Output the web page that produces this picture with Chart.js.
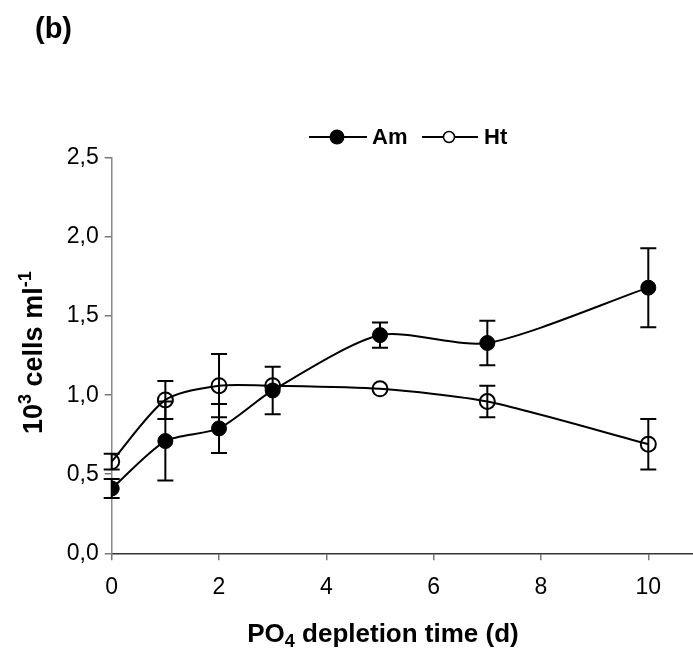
<!DOCTYPE html>
<html>
<head>
<meta charset="utf-8">
<script src="https://cdn.jsdelivr.net/npm/chart.js@4"></script>
<style>
  html, body { margin: 0; padding: 0; background: #fff; }
  #wrap { width: 693px; height: 658px; position: relative; }
</style>
</head>
<body>
<div id="wrap"><canvas id="cellChart" width="693" height="658"></canvas></div>
<script>
// ===== data =====
const days   = [0, 1, 2, 3, 5, 7, 10];
const amVals = [0.41, 0.71, 0.79, 1.03, 1.38, 1.33, 1.68];
const amErr  = [0.06, 0.25, 0.155, 0.15, 0.08, 0.14, 0.25];
const htVals = [0.58, 0.97, 1.06, 1.06, 1.04, 0.96, 0.69];
const htErr  = [0.05, 0.12, 0.2, 0, 0, 0.1, 0.16];
const xTicks = [0, 2, 4, 6, 8, 10];
const yTicks = [0, 0.5, 1.0, 1.5, 2.0, 2.5];

const FONT = "'Liberation Sans', Arial, sans-serif";

// error bars, drawn through the scales
const errorBars = {
  id: "errorBars",
  afterDatasetsDraw(chart) {
    const ctx = chart.ctx;
    const xs = chart.scales.x, ys = chart.scales.y;
    const sets = [[amVals, amErr], [htVals, htErr]];
    ctx.save();
    ctx.strokeStyle = "#000";
    ctx.lineWidth = 2;
    sets.forEach(([vals, errs]) => {
      vals.forEach((v, i) => {
        const e = errs[i];
        if (!e) return;
        const px = xs.getPixelForValue(days[i]);
        const top = ys.getPixelForValue(v + e);
        const bot = ys.getPixelForValue(v - e);
        ctx.beginPath();
        ctx.moveTo(px, top); ctx.lineTo(px, bot);
        ctx.moveTo(px - 8, top); ctx.lineTo(px + 8, top);
        ctx.moveTo(px - 8, bot); ctx.lineTo(px + 8, bot);
        ctx.stroke();
      });
    });
    ctx.restore();
  }
};

// titles, panel label and legend (with sub/superscripts)
function drawRuns(ctx, runs, x, y, align) {
  // runs: [text, size, dy]
  let w = 0;
  runs.forEach(r => { ctx.font = "bold " + r[1] + "px " + FONT; w += ctx.measureText(r[0]).width; });
  let cx = align === "center" ? x - w / 2 : x;
  runs.forEach(r => {
    ctx.font = "bold " + r[1] + "px " + FONT;
    ctx.fillText(r[0], cx, y + r[2]);
    cx += ctx.measureText(r[0]).width;
  });
}

const decorations = {
  id: "decorations",
  afterDraw(chart) {
    const ctx = chart.ctx;
    const area = chart.chartArea;
    ctx.save();
    ctx.fillStyle = "#000";
    ctx.textBaseline = "alphabetic";
    ctx.textAlign = "left";

    // panel label
    ctx.font = "bold 29px " + FONT;
    ctx.fillText("(b)", 35, 38);

    // x title
    const xs = chart.scales.x;
    const xMid = (xs.getPixelForValue(0) + xs.getPixelForValue(10)) / 2;
    drawRuns(ctx, [["PO", 26, 0], ["4", 18, 5], [" depletion time (d)", 26, 0]], xMid + 3, 642, "center");

    // y title (rotated)
    ctx.save();
    ctx.translate(42, (area.top + area.bottom) / 2 - 3);
    ctx.rotate(-Math.PI / 2);
    drawRuns(ctx, [["10", 27, 0], ["3", 18, -11], [" cells ml", 27, 0], ["-1", 18, -11]], 0, 0, "center");
    ctx.restore();

    // legend
    const ly = 137;
    ctx.strokeStyle = "#000";
    ctx.lineWidth = 2;
    ctx.beginPath();
    ctx.moveTo(309, ly); ctx.lineTo(367, ly);
    ctx.moveTo(422, ly); ctx.lineTo(478, ly);
    ctx.stroke();
    ctx.beginPath(); ctx.arc(337, ly, 7.5, 0, Math.PI * 2); ctx.fill();
    ctx.fillStyle = "#fff";
    ctx.beginPath(); ctx.arc(449, ly, 5.5, 0, Math.PI * 2); ctx.fill();
    ctx.lineWidth = 1.5; ctx.stroke();
    ctx.fillStyle = "#000";
    ctx.font = "bold 22px " + FONT;
    ctx.textBaseline = "middle";
    ctx.fillText("Am", 372, ly + 1);
    ctx.fillText("Ht", 484, ly + 1);
    ctx.restore();
  }
};

new Chart(document.getElementById("cellChart"), {
  type: "line",
  data: {
    datasets: [
      {
        label: "Am",
        data: days.map((d, i) => ({ x: d, y: amVals[i] })),
        borderColor: "#000",
        borderWidth: 2,
        backgroundColor: "#000",
        pointBackgroundColor: "#000",
        pointBorderColor: "#000",
        pointRadius: 7.5,
        pointBorderWidth: 1,
        tension: 0.25
      },
      {
        label: "Ht",
        data: days.map((d, i) => ({ x: d, y: htVals[i] })),
        borderColor: "#000",
        borderWidth: 2,
        backgroundColor: "#fff",
        pointBackgroundColor: "rgba(255,255,255,0)",
        pointBorderColor: "#000",
        pointRadius: 7.5,
        pointBorderWidth: 2,
        tension: 0.25
      }
    ]
  },
  options: {
    responsive: false,
    animation: false,
    layout: { autoPadding: false, padding: { left: 0, right: 0, top: 158, bottom: 0 } },
    plugins: {
      legend: { display: false },
      tooltip: { enabled: false }
    },
    scales: {
      x: {
        type: "linear",
        min: 0,
        max: 10.833,
        afterBuildTicks: s => { s.ticks = xTicks.map(v => ({ value: v })); },
        afterFit: s => { s.height = 104.7; },
        ticks: {
          color: "#000",
          font: { family: FONT, size: 23 },
          padding: 14
        },
        grid: { drawOnChartArea: false, drawTicks: true, tickLength: 7, tickColor: "#777", lineWidth: 1.5 },
        border: { display: true, color: "#333", width: 1.5 }
      },
      y: {
        min: 0,
        max: 2.5,
        afterBuildTicks: s => { s.ticks = yTicks.map(v => ({ value: v })); },
        afterFit: s => { s.width = 111.7; },
        ticks: {
          color: "#000",
          font: { family: FONT, size: 23 },
          padding: 6,
          callback: v => v.toFixed(1).replace(".", ",")
        },
        grid: { drawOnChartArea: false, drawTicks: true, tickLength: 7, tickColor: "#777", lineWidth: 1.5 },
        border: { display: true, color: "#888", width: 1.5 }
      }
    }
  },
  plugins: [errorBars, decorations]
});
</script>
</body>
</html>
